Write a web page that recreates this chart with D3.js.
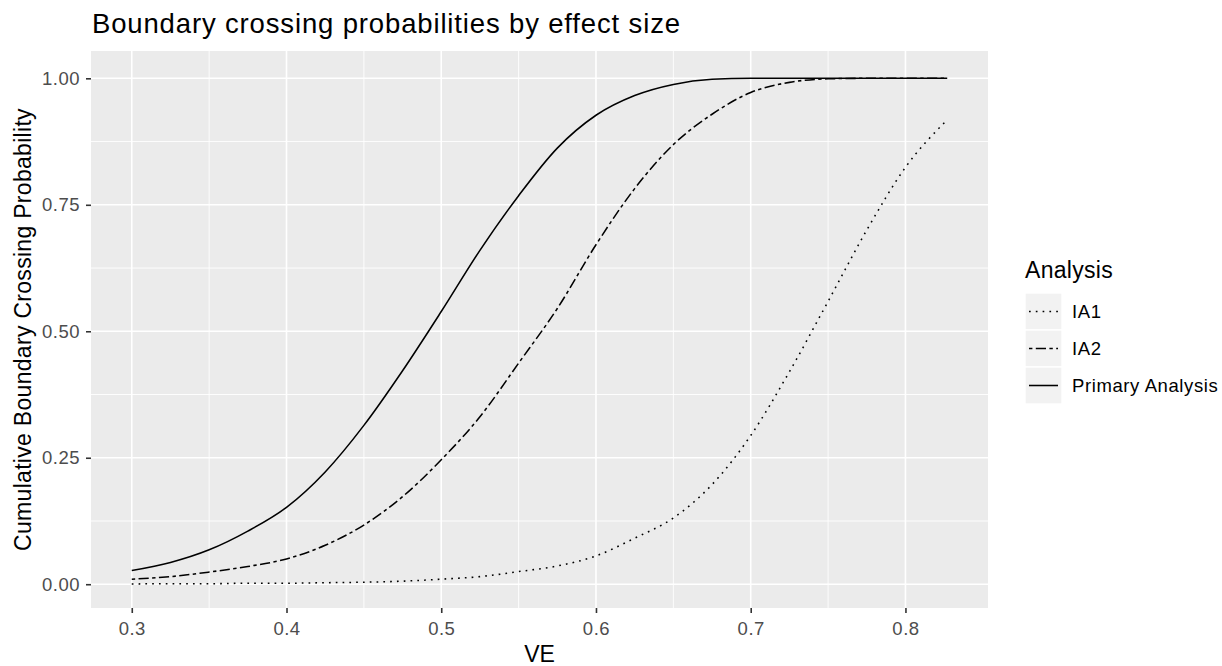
<!DOCTYPE html>
<html>

<head>
    <meta charset="utf-8">
    <title>Boundary crossing probabilities</title>
    <style type="text/css">
        html,
        body {
            margin: 0;
            padding: 0;
            background: #ffffff;
            font-family: "Liberation Sans", Arial, sans-serif;
        }

        .tick text {
            fill: #4d4d4d;
            font-size: 18.5px;
            letter-spacing: 0.5px;
        }

        .tick line {
            stroke: #333333;
        }
    </style>
</head>

<body>
    <script src="https://d3js.org/d3.v7.min.js"></script>

    <script>
        // VE values where the curves were read
        var ve = [0.300, 0.325, 0.350, 0.375, 0.400, 0.425, 0.450, 0.475, 0.500, 0.525, 0.550,
            0.575, 0.600, 0.625, 0.650, 0.675, 0.700, 0.725, 0.750, 0.775, 0.800, 0.827];

        var ia1 = [0.0005, 0.001, 0.001, 0.002, 0.002, 0.003, 0.004, 0.006, 0.010, 0.015, 0.025,
            0.036, 0.056, 0.091, 0.131, 0.197, 0.294, 0.420, 0.559, 0.700, 0.824, 0.918];

        var ia2 = [0.010, 0.015, 0.024, 0.035, 0.050, 0.077, 0.117, 0.173, 0.246, 0.331, 0.437,
            0.545, 0.671, 0.782, 0.869, 0.929, 0.972, 0.992, 0.999, 1.000, 1.000, 1.000];

        var primary = [0.027, 0.043, 0.068, 0.105, 0.152, 0.222, 0.314, 0.422, 0.539, 0.660, 0.768,
            0.862, 0.927, 0.966, 0.988, 0.998, 1.000, 1.000, 1.000, 1.000, 1.000, 1.000];

        var seriesNames = ["IA1", "IA2", "Primary Analysis"];
        var xTicks = [0.3, 0.4, 0.5, 0.6, 0.7, 0.8];
        var yTicks = [0, 0.25, 0.5, 0.75, 1];

        var lwd = 1.7;
        var dashes = {
            "IA1": [1 * lwd, 3 * lwd].join(","),
            "IA2": [2 * lwd, 2 * lwd, 6 * lwd, 2 * lwd].join(","),
            "Primary Analysis": null
        };

        var W = 1222, H = 666;
        var panel = { left: 91, right: 988, top: 51, bottom: 608 };

        var svg = d3.select("body").append("svg")
            .attr("width", W)
            .attr("height", H);

        // ggplot style 5% expansion
        var xr = d3.extent(ve);
        var xpad = (xr[1] - xr[0]) * 0.05;
        var x = d3.scaleLinear()
            .domain([xr[0] - xpad, xr[1] + xpad])
            .range([panel.left, panel.right]);

        var y = d3.scaleLinear()
            .domain([-0.047, 1.054])
            .range([panel.bottom, panel.top]);

        // panel background
        svg.append("rect")
            .attr("x", panel.left)
            .attr("y", panel.top)
            .attr("width", panel.right - panel.left)
            .attr("height", panel.bottom - panel.top)
            .attr("fill", "#ebebeb");

        // minor grid
        var xMinor = xTicks.slice(0, -1).map(function (d) { return d + 0.05; });
        var yMinor = yTicks.slice(0, -1).map(function (d) { return d + 0.125; });

        var grid = svg.append("g");
        grid.selectAll(".xminor").data(xMinor).enter().append("line")
            .attr("x1", function (d) { return x(d); })
            .attr("x2", function (d) { return x(d); })
            .attr("y1", panel.top).attr("y2", panel.bottom)
            .attr("stroke", "#ffffff").attr("stroke-width", 0.9);
        grid.selectAll(".yminor").data(yMinor).enter().append("line")
            .attr("y1", function (d) { return y(d); })
            .attr("y2", function (d) { return y(d); })
            .attr("x1", panel.left).attr("x2", panel.right)
            .attr("stroke", "#ffffff").attr("stroke-width", 0.9);

        // major grid
        grid.selectAll(".xmajor").data(xTicks).enter().append("line")
            .attr("x1", function (d) { return x(d); })
            .attr("x2", function (d) { return x(d); })
            .attr("y1", panel.top).attr("y2", panel.bottom)
            .attr("stroke", "#ffffff").attr("stroke-width", 1.6);
        grid.selectAll(".ymajor").data(yTicks).enter().append("line")
            .attr("y1", function (d) { return y(d); })
            .attr("y2", function (d) { return y(d); })
            .attr("x1", panel.left).attr("x2", panel.right)
            .attr("stroke", "#ffffff").attr("stroke-width", 1.6);

        // axes
        var xAxis = svg.append("g")
            .attr("transform", "translate(0," + panel.bottom + ")")
            .call(d3.axisBottom(x).tickValues(xTicks).tickSize(5).tickPadding(9)
                .tickFormat(d3.format(".1f")));
        xAxis.select(".domain").remove();
        xAxis.selectAll(".tick line").attr("stroke-width", 1.6);

        var yAxis = svg.append("g")
            .attr("transform", "translate(" + panel.left + ",0)")
            .call(d3.axisLeft(y).tickValues(yTicks).tickSize(5).tickPadding(6)
                .tickFormat(d3.format(".2f")));
        yAxis.select(".domain").remove();
        yAxis.selectAll(".tick line").attr("stroke-width", 1.6);

        // lines
        var line = d3.line()
            .curve(d3.curveMonotoneX)
            .x(function (d) { return x(d[0]); })
            .y(function (d) { return y(d[1]); });

        var seriesValues = [ia1, ia2, primary];
        var series = seriesNames.map(function (name, i) {
            return { name: name, points: ve.map(function (v, j) { return [v, seriesValues[i][j]]; }) };
        });

        svg.append("g").selectAll("path").data(series).enter().append("path")
            .attr("d", function (d) { return line(d.points); })
            .attr("fill", "none")
            .attr("stroke", "#000000")
            .attr("stroke-width", 1.55)
            .attr("stroke-dasharray", function (d) { return dashes[d.name]; });

        // titles
        svg.append("text")
            .attr("x", 92)
            .attr("y", 33)
            .attr("font-size", 27.5)
            .attr("letter-spacing", 0.85)
            .attr("fill", "#000000")
            .text("Boundary crossing probabilities by effect size");

        svg.append("text")
            .attr("x", (panel.left + panel.right) / 2)
            .attr("y", 662)
            .attr("text-anchor", "middle")
            .attr("font-size", 23)
            .attr("fill", "#000000")
            .text("VE");

        svg.append("text")
            .attr("transform", "translate(31," + ((panel.top + panel.bottom) / 2) + ") rotate(-90)")
            .attr("text-anchor", "middle")
            .attr("font-size", 23)
            .attr("letter-spacing", 0.3)
            .attr("fill", "#000000")
            .text("Cumulative Boundary Crossing Probability");

        // legend
        var legend = svg.append("g").attr("transform", "translate(1025,293)");
        legend.append("text")
            .attr("x", 0)
            .attr("y", -15)
            .attr("font-size", 23)
            .attr("letter-spacing", 0.3)
            .attr("fill", "#000000")
            .text("Analysis");

        var keySize = 37;
        var item = legend.selectAll(".key").data(seriesNames).enter().append("g")
            .attr("transform", function (d, i) { return "translate(0," + (i * keySize) + ")"; });

        item.append("rect")
            .attr("width", keySize)
            .attr("height", keySize)
            .attr("fill", "#f2f2f2")
            .attr("stroke", "#ffffff")
            .attr("stroke-width", 1.4);

        item.append("line")
            .attr("x1", 4).attr("x2", keySize - 4)
            .attr("y1", keySize / 2).attr("y2", keySize / 2)
            .attr("stroke", "#000000")
            .attr("stroke-width", 1.55)
            .attr("stroke-dasharray", function (d) { return dashes[d]; });

        item.append("text")
            .attr("x", keySize + 10)
            .attr("y", keySize / 2)
            .attr("dy", "0.36em")
            .attr("font-size", 18.5)
            .attr("letter-spacing", 0.6)
            .attr("fill", "#000000")
            .text(function (d) { return d; });
    </script>
</body>

</html>
